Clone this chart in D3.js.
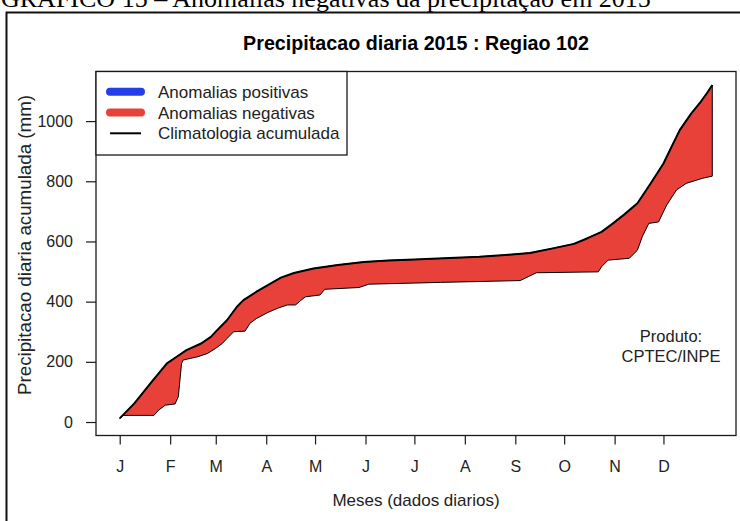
<!DOCTYPE html>
<html>
<head>
<meta charset="utf-8">
<script src="https://cdn.jsdelivr.net/npm/d3@7"></script>
<style>
  html, body { margin: 0; padding: 0; background: #fff; }
  svg { display: block; font-family: "Liberation Sans", Arial, Helvetica, sans-serif; }
</style>
</head>
<body>
<svg id="chart" width="740" height="521"></svg>
<script>
// Month ticks (first day of each month, day-of-year)
const monthLabels = ["J", "F", "M", "A", "M", "J", "J", "A", "S", "O", "N", "D"];
const monthStartDays = [1, 32, 60, 91, 121, 152, 182, 213, 244, 274, 305, 335];
const yTickValues = [0, 200, 400, 600, 800, 1000];

// Accumulated climatology (mm) by day of year
const climDays   = [1, 10, 20, 30, 36, 42, 51, 57, 61, 67, 73, 77, 85, 92, 100, 108, 120, 135, 151, 166, 182, 200, 222, 240, 253, 267, 280, 288, 297, 304, 311, 319, 327, 335, 340, 345, 352, 358, 362, 365];
const climValues = [12, 62, 129, 195, 217, 239, 261, 283, 306, 339, 383, 405, 433, 455, 480, 495, 510, 522, 532, 537, 540, 544, 549, 556, 562, 577, 592, 610, 632, 660, 690, 727, 792, 859, 915, 970, 1025, 1065, 1095, 1120];

// Accumulated observed precipitation 2015 (mm) by day of year
const obsDays   = [1, 3, 22, 25, 29, 35, 37, 39, 40, 49, 55, 60, 64, 67, 71, 78, 81, 85, 92, 98, 104, 109, 112, 115, 124, 127, 148, 154, 198, 247, 252, 257, 295, 297, 301, 314, 319, 322, 326, 332, 337, 343, 349, 359, 365];
const obsValues = [12, 22, 22, 40, 56, 60, 84, 195, 206, 217, 228, 245, 261, 278, 300, 302, 328, 344, 364, 378, 389, 389, 403, 416, 422, 441, 447, 458, 464, 470, 483, 496, 499, 516, 538, 544, 571, 616, 660, 665, 721, 771, 793, 810, 817];

const legendLabels = ["Anomalias positivas", "Anomalias negativas", "Climatologia acumulada"];
const legendColors = ["#2340e8", "#e8413a", "#000000"];

const RED = "#e8413a", INK = "#1a1a1a";

const svg = d3.select("#chart");

// plotting region
const box = { left: 96, right: 736, top: 71.5, bottom: 435.5 };
const dayPad = (365 - 1) * 0.04;
const valPad = 1120 * 0.04;
const x = d3.scaleLinear().domain([1 - dayPad, 365 + dayPad]).range([box.left, box.right]);
const y = d3.scaleLinear().domain([-valPad, 1120 + valPad]).range([box.bottom, box.top]);

// page caption (its upper part runs past the page edge)
svg.append("text")
  .attr("x", 1).attr("y", 7)
  .attr("font-family", "'Liberation Serif', 'Times New Roman', serif")
  .attr("font-size", 26)
  .attr("fill", "#000")
  .text("GRÁFICO 15 – Anomalias negativas da precipitação em 2015");

// outer figure frame
svg.append("path")
  .attr("d", "M6.5,521 V12.5 H740")
  .attr("fill", "none").attr("stroke", "#111").attr("stroke-width", 2);

// title
svg.append("text")
  .attr("x", (box.left + box.right) / 2).attr("y", 50)
  .attr("text-anchor", "middle")
  .attr("font-weight", "bold").attr("font-size", 19.7).attr("fill", "#000")
  .text("Precipitacao diaria 2015 : Regiao 102");

// anomaly polygon: climatology on top, observed below
const clim = climDays.map((d, i) => [d, climValues[i]]);
const obs = obsDays.map((d, i) => [d, obsValues[i]]);
const ring = clim.concat(obs.slice().reverse());
const line = d3.line().x(p => x(p[0])).y(p => y(p[1]));

svg.append("path")
  .attr("d", line(ring) + "Z")
  .attr("fill", RED).attr("stroke", "#000").attr("stroke-width", 1)
  .attr("stroke-linejoin", "round");

// climatology line
svg.append("path")
  .attr("d", line(clim))
  .attr("fill", "none").attr("stroke", "#000").attr("stroke-width", 2)
  .attr("stroke-linejoin", "round");

// axes
const yAxis = d3.axisLeft(y).tickValues(yTickValues).tickSize(10).tickPadding(13).tickFormat(d3.format("d"));
const gy = svg.append("g").attr("transform", `translate(${box.left},0)`).call(yAxis);
gy.select(".domain").remove();

const xAxis = d3.axisBottom(x).tickValues(monthStartDays).tickSize(9).tickPadding(16)
  .tickFormat((d, i) => monthLabels[i]);
const gx = svg.append("g").attr("transform", `translate(0,${box.bottom})`).call(xAxis);
gx.select(".domain").remove();

[gy, gx].forEach(g => {
  g.selectAll(".tick line").attr("stroke", INK).attr("stroke-width", 1.2);
  g.selectAll(".tick text").attr("fill", "#222").attr("font-size", 16)
    .attr("font-family", "'Liberation Sans', Arial, sans-serif");
});

// plot box
svg.append("rect")
  .attr("x", box.left).attr("y", box.top)
  .attr("width", box.right - box.left).attr("height", box.bottom - box.top)
  .attr("fill", "none").attr("stroke", INK).attr("stroke-width", 1.3);

// axis titles
svg.append("text")
  .attr("transform", "translate(31,245) rotate(-90)")
  .attr("text-anchor", "middle").attr("font-size", 17.5).attr("fill", "#222")
  .attr("textLength", 300).attr("lengthAdjust", "spacingAndGlyphs")
  .text("Precipitacao diaria acumulada (mm)");

svg.append("text")
  .attr("x", (box.left + box.right) / 2).attr("y", 506)
  .attr("text-anchor", "middle").attr("font-size", 17).attr("fill", "#222")
  .text("Meses (dados diarios)");

// product note
const note = svg.append("text").attr("text-anchor", "middle").attr("font-size", 16.5).attr("fill", "#222");
note.append("tspan").attr("x", 671).attr("y", 341.7).text("Produto:");
note.append("tspan").attr("x", 671).attr("y", 361.7).text("CPTEC/INPE");

// legend
const legend = svg.append("g");
legend.append("rect")
  .attr("x", box.left).attr("y", box.top).attr("width", 251).attr("height", 83.5)
  .attr("fill", "#fff").attr("stroke", INK).attr("stroke-width", 1.3);
const rowsY = [91.7, 112.5, 133.3];
legendLabels.forEach((lab, i) => {
  const thick = i < 2;
  legend.append("line")
    .attr("x1", 110).attr("x2", 141).attr("y1", rowsY[i]).attr("y2", rowsY[i])
    .attr("stroke", legendColors[i]).attr("stroke-width", thick ? 8 : 2)
    .attr("stroke-linecap", thick ? "round" : "butt");
  legend.append("text")
    .attr("x", 158).attr("y", rowsY[i]).attr("dy", "0.36em")
    .attr("font-size", 17).attr("fill", "#222").text(lab);
});
</script>
</body>
</html>
